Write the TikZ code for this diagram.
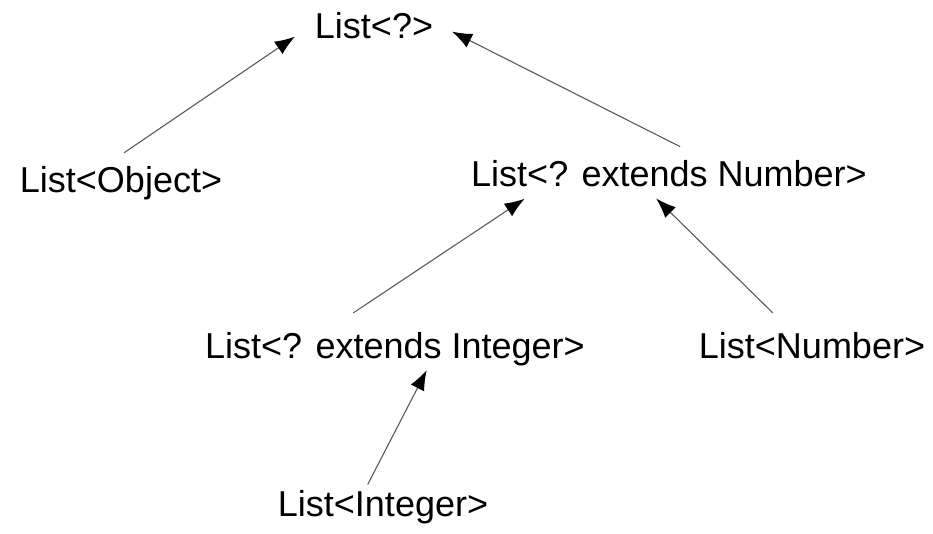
\documentclass[tikz,border=0pt]{standalone}
\usepackage{fontspec}
\setmainfont{Liberation Sans}
\usetikzlibrary{arrows.meta}

\begin{document}
\begin{tikzpicture}[x=1pt,y=-1pt,
  type/.style={anchor=base,inner sep=0pt,font=\fontsize{36}{43}\selectfont},
  sub/.style={->,>={Latex[length=20pt,width=15pt,color=black]},draw=black!65,line width=1.1pt}]
\useasboundingbox (0,0) rectangle (933,533);
% types
\node[type] (top)at(374,38){List<?>};
\node[type] (obj)at(121,192){List<Object>};
\node[type] (num)at(669,186){List<? extends Number>};
\node[type] (intI)at(395,358){List<? extends Integer>};
\node[type] (numL)at(812,358){List<Number>};
\node[type] (intG)at(383,516){List<Integer>};
% subtype arrows
\draw[sub,shorten <=23pt,shorten >=24pt] ([xshift=-16pt]obj.north) to ([yshift=2pt]top.west);
\draw[sub,shorten <=29pt,shorten >=21pt] ([xshift=37pt]num.north) to ([yshift=3pt]top.east);
\draw[sub,shorten <=34pt,shorten >=22pt] ([xshift=-70pt]intI.north) to ([xshift=-126pt]num.south);
\draw[sub,shorten <=27pt,shorten >=17pt] ([xshift=-20pt]numL.north) to ([xshift=-25pt]num.south);
\draw[sub,shorten <=6pt,shorten >=5pt] ([xshift=-18pt]intG.north) to ([xshift=34pt]intI.south);
\end{tikzpicture}
\end{document}
